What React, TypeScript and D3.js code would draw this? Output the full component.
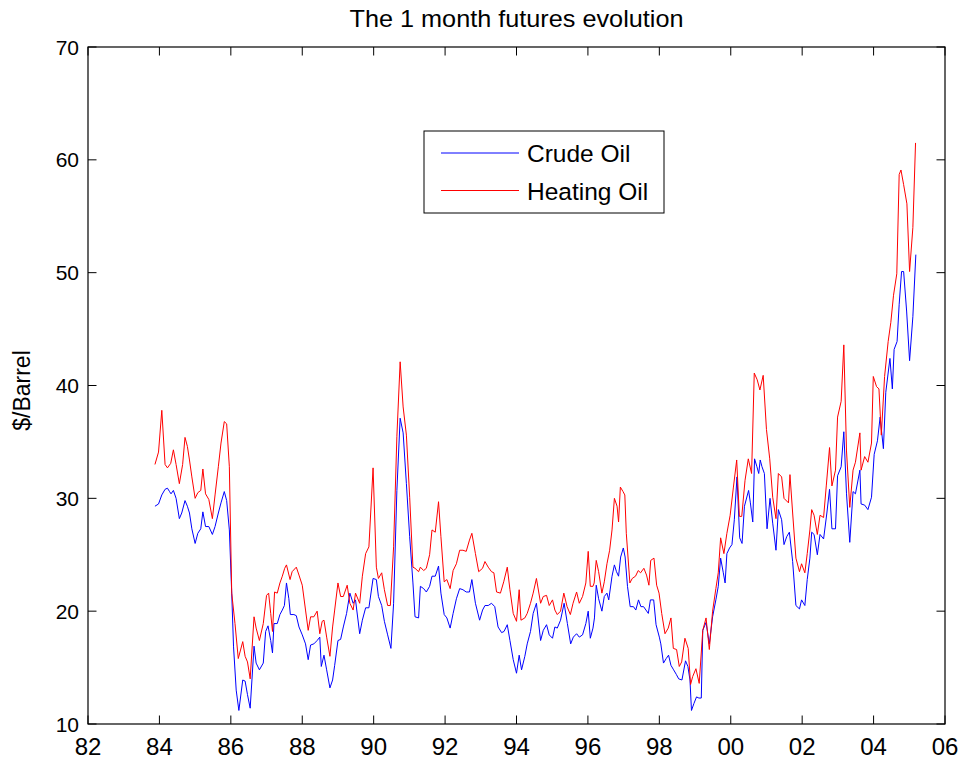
import React from "react";
import * as d3 from "d3";

// [months since Jan 1984, $/barrel]
const crudeOil: [number, number][] = [
  [-1.5,29.3],[-0.3,29.5],[0.8,30.3],[1.9,30.8],[2.7,30.9],[3.4,30.6],[3.9,30.4],[4.7,30.7],[5.6,30.0],[6.7,28.2],[7.5,28.7],[8.6,29.8],[9.4,29.3],[10.1,28.7],[10.9,27.3],[12.0,26.0],[12.9,26.9],[13.9,27.3],[14.6,28.8],[15.5,27.5],[16.6,27.5],[17.8,26.8],[18.7,27.5],[19.8,28.7],[20.7,29.6],[21.8,30.6],[22.6,29.8],[23.5,27.2],[24.3,21.6],[24.9,16.9],[25.8,13.0],[26.7,11.2],[28.0,13.9],[28.8,13.8],[29.6,12.6],[30.5,11.4],[31.8,16.9],[32.5,15.4],[33.6,14.8],
  [34.9,15.4],[35.7,18.2],[36.5,18.7],[37.4,17.4],[38.0,16.3],[38.5,18.9],[39.6,18.9],[40.5,19.7],[41.3,20.1],[42.0,20.5],[42.7,22.5],[43.5,21.1],[44.0,19.7],[45.2,19.7],[46.0,19.6],[46.9,18.6],[48.0,17.9],[49.1,17.1],[50.0,15.7],[50.8,17.0],[51.9,17.1],[53.0,17.4],[53.9,17.7],[54.4,15.1],[55.3,16.1],[56.2,14.8],[57.3,13.2],[58.2,13.9],[58.9,15.2],[60.0,17.4],[60.9,17.5],[61.8,18.6],[62.9,19.8],[64.0,21.6],[65.1,20.7],[65.9,21.0],[67.3,18.0],[68.2,19.2],[69.3,20.3],[70.4,20.3],
  [71.8,22.9],[72.9,22.8],[73.6,21.3],[74.7,20.5],[75.6,19.1],[76.7,17.9],[77.8,16.7],[78.7,20.7],[79.8,30.7],[80.9,37.1],[81.9,35.8],[83.0,31.3],[84.1,26.6],[85.2,22.5],[85.9,19.5],[87.1,19.4],[87.7,22.2],[88.8,22.0],[89.7,21.7],[90.8,22.2],[91.6,23.1],[92.7,23.1],[93.8,24.0],[94.6,21.6],[95.7,19.7],[96.6,19.4],[97.7,18.5],[98.7,19.8],[99.8,21.1],[100.9,22.0],[102.0,21.9],[103.1,21.7],[104.2,21.7],[105.0,22.8],[106.2,20.7],[107.6,19.2],
  [108.6,20.1],[109.4,20.5],[110.5,20.5],[111.6,20.7],[112.7,20.4],[113.8,18.6],[115.0,18.1],[115.8,18.2],[116.9,18.8],[117.8,17.4],[118.9,15.7],[120.0,14.5],[120.9,16.1],[121.7,14.8],[122.8,16.0],[123.6,17.1],[124.7,18.2],[125.6,19.8],[126.7,20.7],[128.1,17.4],[129.0,18.3],[130.1,18.8],[131.0,17.9],[132.1,17.6],[132.9,18.6],[133.7,18.5],[134.8,19.2],[136.0,20.7],[137.1,18.9],[138.2,17.1],[139.1,17.7],[140.2,18.0],[141.1,17.7],[142.2,17.9],[143.3,18.9],[144.1,20.0],
  [144.8,17.6],[145.7,18.5],[146.2,19.4],[146.8,22.3],[147.6,21.1],[148.7,20.0],[149.5,21.3],[150.4,21.6],[151.0,21.0],[152.1,23.1],[152.9,24.1],[153.6,23.5],[154.3,23.1],[155.0,24.8],[155.9,25.6],[156.5,24.8],[157.3,22.2],[158.2,20.4],[159.3,20.4],[160.1,20.1],[161.0,21.0],[161.8,20.4],[162.7,20.4],[163.5,20.1],[164.3,19.8],[165.0,21.0],[166.1,21.0],[166.9,18.8],[168.0,17.7],[168.5,17.1],[169.4,15.4],[170.3,15.8],[171.1,16.1],[171.9,15.2],[172.8,14.8],[173.7,14.4],[174.5,14.0],[175.6,13.9],[176.8,15.6],[177.6,15.1],[178.3,13.9],[178.8,11.2],[179.6,11.8],[180.5,12.4],[181.3,12.3],
  [182.1,12.3],[182.6,18.3],[183.7,19.0],[184.8,17.1],[185.9,19.5],[187.0,21.0],[187.8,22.2],[188.6,24.7],[189.5,23.4],[190.1,22.5],[190.7,25.1],[191.6,25.6],[192.4,25.9],[193.2,28.1],[194.1,31.9],[195.0,26.5],[195.8,26.0],[196.6,29.3],[198.0,30.7],[198.6,29.6],[199.4,27.9],[200.0,33.5],[200.8,32.8],[201.4,32.2],[201.9,33.4],[202.5,32.8],[203.3,32.2],[204.2,27.3],[205.2,30.0],[206.1,27.8],[207.2,25.4],[208.0,29.0],[209.1,28.1],[209.9,25.9],[210.8,26.6],[211.7,27.0],[212.8,24.4],[213.9,20.5],[215.1,20.2],[215.8,21.0],[216.9,20.5],[217.7,22.8],
  [218.6,24.7],[219.2,27.0],[220.0,26.8],[221.1,25.0],[222.0,26.8],[223.2,26.4],[224.3,28.7],[225.2,30.8],[226.0,27.3],[227.2,27.3],[227.9,32.0],[229.1,32.8],[230.0,35.9],[230.9,30.4],[232.0,26.1],[233.1,30.6],[233.9,30.4],[235.4,32.5],[235.8,29.5],[237.0,29.4],[238.1,29.0],[239.3,30.1],[240.2,33.9],[241.3,35.1],[242.2,37.2],[243.3,34.4],[244.1,39.4],[245.5,42.4],[246.3,39.7],[246.9,43.2],[247.9,43.9],[248.6,47.2],[249.4,50.1],[250.1,50.1],[251.1,46.6],[252.1,42.2],[253.2,46.1],[254.2,51.6],
];

const heatingOil: [number, number][] = [
  [-1.5,33.0],[-0.3,34.1],[0.8,37.8],[1.9,33.0],[2.7,32.7],[3.8,33.1],[4.7,34.3],[5.6,33.0],[6.7,31.3],[7.8,33.0],[8.6,35.4],[9.4,34.6],[10.1,33.4],[10.9,31.9],[12.0,30.0],[12.9,30.5],[13.9,30.7],[14.6,32.6],[15.5,30.4],[16.6,29.9],[17.8,28.2],[18.7,30.3],[19.8,32.8],[20.7,34.9],[21.8,36.8],[22.6,36.6],[23.5,32.8],[24.3,21.6],[25.4,18.9],[26.5,15.8],[28.0,17.3],[28.8,16.0],[29.6,15.5],[30.5,14.0],[31.8,19.5],[32.5,18.5],[33.6,17.4],
  [34.9,18.9],[36.0,21.4],[36.7,21.6],[37.4,19.8],[38.0,18.2],[38.7,21.7],[39.6,21.6],[40.5,22.5],[41.3,23.1],[42.1,23.8],[42.7,24.1],[43.9,22.8],[44.6,23.5],[46.0,23.9],[46.9,23.2],[48.0,22.3],[49.1,20.1],[50.0,18.3],[50.8,19.5],[51.9,19.5],[53.0,20.0],[53.9,18.0],[54.7,19.1],[55.3,19.2],[56.2,17.7],[57.3,16.0],[58.2,18.6],[58.9,20.1],[60.0,22.5],[60.9,21.3],[61.8,21.3],[63.1,22.3],[64.0,20.7],[65.1,20.1],[65.9,21.6],[67.3,20.7],[68.2,23.1],[69.3,25.1],[70.4,25.7],
  [71.8,32.7],[72.9,23.9],[73.6,22.9],[74.7,23.4],[75.6,21.9],[76.7,20.5],[77.6,20.5],[78.7,25.7],[79.8,35.5],[80.9,42.1],[81.9,38.1],[83.0,35.6],[84.1,30.1],[85.2,23.9],[85.9,23.8],[87.1,23.5],[87.7,23.9],[88.8,23.6],[89.7,23.8],[90.8,25.0],[91.6,27.2],[92.7,27.0],[93.8,29.7],[94.6,26.6],[95.7,22.6],[96.6,22.8],[97.7,22.0],[98.7,23.6],[99.8,24.2],[100.9,25.4],[102.0,25.4],[103.1,25.3],[104.2,26.3],[105.0,26.9],[106.2,25.1],[107.3,23.5],
  [108.6,23.8],[109.4,24.4],[110.5,23.9],[111.6,23.5],[112.4,23.4],[113.3,21.7],[114.6,21.6],[115.7,22.6],[116.9,23.9],[117.8,21.9],[118.9,19.8],[120.0,19.1],[120.9,21.9],[121.5,19.2],[122.8,19.4],[123.6,19.8],[124.7,20.7],[125.6,21.6],[126.7,22.9],[128.1,20.7],[129.0,21.3],[130.1,21.4],[131.0,20.5],[132.1,21.0],[132.9,20.1],[133.7,19.7],[134.8,20.0],[135.9,21.6],[137.0,20.4],[138.1,19.7],[139.0,20.7],[140.2,21.7],[141.1,20.7],[142.2,21.3],[143.3,22.5],[144.1,25.3],
  [144.8,22.2],[145.7,22.2],[146.1,22.5],[146.8,24.5],[147.6,23.5],[148.7,21.6],[149.5,22.6],[150.4,24.2],[151.3,25.4],[152.1,27.2],[152.9,30.0],[153.8,29.3],[154.3,27.9],[154.9,31.0],[155.8,30.6],[156.4,30.3],[156.9,26.9],[158.1,22.5],[158.9,22.9],[160.0,23.1],[160.9,23.6],[161.7,23.4],[162.8,23.8],[163.7,23.2],[164.5,22.3],[165.1,24.5],[166.2,24.7],[167.1,22.3],[167.9,21.6],[168.8,19.8],[169.9,18.0],[171.0,18.5],[171.9,19.4],[172.7,16.7],[173.8,16.6],[174.7,15.1],[175.5,15.5],[176.6,17.6],[177.7,16.7],[178.5,13.5],[179.2,14.2],[180.3,14.9],[181.4,13.6],
  [182.6,18.3],[183.7,19.4],[184.8,16.6],[185.9,20.0],[187.0,22.0],[187.8,23.4],[188.6,26.5],[189.7,25.1],[190.7,26.9],[191.8,28.5],[192.9,31.0],[194.0,33.4],[194.9,28.4],[195.7,28.4],[196.8,31.6],[197.9,33.5],[199.0,32.2],[199.9,41.1],[200.9,40.5],[201.8,39.6],[202.9,40.9],[204.0,36.1],[205.1,33.5],[206.1,30.1],[207.2,28.2],[208.0,32.2],[209.1,31.9],[209.9,30.0],[211.4,29.6],[211.9,32.1],[212.8,28.7],[213.9,24.7],[215.1,23.5],[215.8,24.2],[216.9,23.4],[217.7,25.1],
  [218.6,27.2],[219.2,29.0],[220.0,28.5],[221.1,26.8],[222.0,28.5],[223.2,28.3],[224.1,31.1],[225.2,34.5],[226.0,31.1],[227.2,32.5],[227.9,37.2],[229.1,38.6],[230.0,43.6],[230.9,34.2],[232.0,29.2],[233.1,32.5],[233.9,33.2],[235.4,35.8],[235.8,32.5],[237.0,33.7],[238.1,33.2],[239.3,34.9],[239.9,40.8],[241.0,39.9],[241.8,39.7],[242.6,35.6],[243.7,40.8],[244.9,43.9],[245.8,45.6],[246.7,48.0],[247.8,49.9],[248.6,58.7],[249.2,59.1],[250.1,57.8],[251.2,56.1],[252.1,50.1],[253.2,54.0],[254.1,61.5],
];

const seriesNames = ["Crude Oil", "Heating Oil"];
const seriesColors = ["#0000ff", "#ff0000"];
const xTickYears = [82, 84, 86, 88, 90, 92, 94, 96, 98, 100, 102, 104, 106];
const xTickLabels = ["82", "84", "86", "88", "90", "92", "94", "96", "98", "00", "02", "04", "06"];
const yTickValues = [10, 20, 30, 40, 50, 60, 70];
const titleText = "The 1 month futures evolution";
const yLabelText = "$/Barrel";

const W = 965;
const H = 762;
const left = 88;
const right = 945;
const top = 47;
const bottom = 724;
const tickLen = 8.5;
const FONT = "'Liberation Sans', Arial, Helvetica, sans-serif";

export default function App() {
  const x = d3.scaleLinear().domain([82, 106]).range([left, right]);
  const y = d3.scaleLinear().domain([10, 70]).range([bottom, top]);
  const line = d3
    .line<[number, number]>()
    .x((d) => x(84 + d[0] / 12))
    .y((d) => y(d[1]));
  const series = [crudeOil, heatingOil];

  return (
    <svg
      width={W}
      height={H}
      style={{ position: "absolute", left: 0, top: 0, background: "#fff" }}
      fontFamily={FONT}
    >
      <rect x={0} y={0} width={W} height={H} fill="#fff" />
      <text
        x={(left + right) / 2}
        y={27}
        textAnchor="middle"
        fontSize={24.5}
        textLength={334}
        lengthAdjust="spacingAndGlyphs"
        fill="#000"
      >
        {titleText}
      </text>
      <g>
        {series.map((s, i) => (
          <path key={i} d={line(s) || ""} fill="none" stroke={seriesColors[i]} strokeWidth={1} />
        ))}
      </g>
      {/* frame */}
      <rect x={left} y={top} width={right - left} height={bottom - top} fill="none" stroke="#000" strokeWidth={1.2} />
      {xTickYears.map((v, i) => (
        <g key={"xt" + i}>
          <line x1={x(v)} x2={x(v)} y1={bottom} y2={bottom - tickLen} stroke="#000" />
          <line x1={x(v)} x2={x(v)} y1={top} y2={top + tickLen} stroke="#000" />
          <text x={x(v)} y={755} textAnchor="middle" fontSize={24} fill="#000">
            {xTickLabels[i]}
          </text>
        </g>
      ))}
      {yTickValues.map((v, i) => (
        <g key={"yt" + i}>
          <line x1={left} x2={left + tickLen} y1={y(v)} y2={y(v)} stroke="#000" />
          <line x1={right} x2={right - tickLen} y1={y(v)} y2={y(v)} stroke="#000" />
          <text x={79} y={y(v) + 7.5} textAnchor="end" fontSize={21} fill="#000">
            {v}
          </text>
        </g>
      ))}
      <text
        transform={`translate(30, ${(top + bottom) / 2 + 5}) rotate(-90)`}
        textAnchor="middle"
        fontSize={23}
        fill="#000"
      >
        {yLabelText}
      </text>
      {/* legend */}
      <g>
        <rect x={424} y={131} width={240} height={82} fill="#fff" stroke="#000" strokeWidth={1} />
        {seriesNames.map((n, i) => (
          <g key={n}>
            <line x1={441} x2={519} y1={153 + i * 37.5} y2={153 + i * 37.5} stroke={seriesColors[i]} strokeWidth={1} />
            <text x={527} y={162 + i * 38} fontSize={24.5} fill="#000">
              {n}
            </text>
          </g>
        ))}
      </g>
    </svg>
  );
}
